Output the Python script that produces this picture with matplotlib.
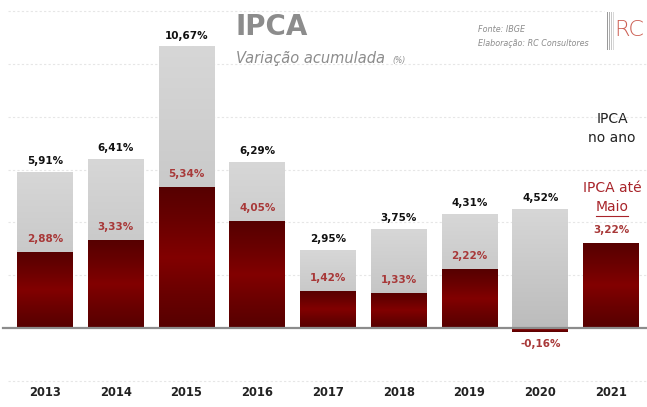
import matplotlib
matplotlib.use("Agg")
import matplotlib.pyplot as plt
import numpy as np
from matplotlib.patches import Rectangle
from matplotlib.colors import LinearSegmentedColormap

years = ["2013", "2014", "2015", "2016", "2017", "2018", "2019", "2020", "2021"]
ipca_ano = [5.91, 6.41, 10.67, 6.29, 2.95, 3.75, 4.31, 4.52, None]
ipca_maio = [2.88, 3.33, 5.34, 4.05, 1.42, 1.33, 2.22, -0.16, 3.22]
ano_labels = ["5,91%", "6,41%", "10,67%", "6,29%", "2,95%", "3,75%", "4,31%", "4,52%", ""]
maio_labels = ["2,88%", "3,33%", "5,34%", "4,05%", "1,42%", "1,33%", "2,22%", "-0,16%", "3,22%"]

FONT = ["DejaVu Sans"]
plt.rcParams['font.family'] = FONT

fig = plt.figure(figsize=(6.47, 4.07), dpi=100)
ax = fig.add_axes([0, 0, 1, 1])
ax.set_xlim(-45 / 70.75, (647 - 45) / 70.75)
ax.set_ylim(-(407 - 328) / 26.4, 328 / 26.4)
ax.axis("off")

# gridlines
for g in [12, 10, 8, 6, 4, 2, -2]:
    right = 7.9 if g == 12 else 8.5
    ax.plot([-0.52, right], [g, g], color="#e6e6e6", lw=0.8, ls=(0, (2, 2)), zorder=0)

gray_cmap = LinearSegmentedColormap.from_list("g", ["#bcbcbc", "#d7d7d7"])
red_cmap = LinearSegmentedColormap.from_list("r", ["#560000", "#6a0000", "#820000", "#6a0000", "#560000"])
w = 0.79

def grad_bar(x, h, cmap):
    y0, y1 = min(0, h), max(0, h)
    rect = Rectangle((x - w / 2, y0), w, y1 - y0, facecolor="none", edgecolor="none")
    ax.add_patch(rect)
    img = np.linspace(0, 1, 256).reshape(-1, 1)
    im = ax.imshow(img, cmap=cmap, origin="lower", aspect="auto",
                   extent=[x - w / 2, x + w / 2, y0, y1], zorder=2, interpolation="bilinear")
    im.set_clip_path(rect)

for i in range(len(years)):
    if ipca_ano[i] is not None:
        grad_bar(i, ipca_ano[i], gray_cmap)
        ax.text(i, ipca_ano[i] + 0.22, ano_labels[i], ha="center", va="bottom",
                fontsize=7.5, fontweight="bold", color="#111111", zorder=5)
    grad_bar(i, ipca_maio[i], red_cmap)
    if ipca_maio[i] < 0:
        ax.text(i, ipca_maio[i] - 0.25, maio_labels[i], ha="center", va="top",
                fontsize=7.5, fontweight="bold", color="#a83838", zorder=5)
    else:
        ax.text(i, ipca_maio[i] + 0.3, maio_labels[i], ha="center", va="bottom",
                fontsize=7.5, fontweight="bold", color="#a83838", zorder=5)
    ax.text(i, -2.45, years[i], ha="center", va="center", fontsize=8.3,
            fontweight="bold", color="#222222")

ax.plot([-0.6, 8.51], [0, 0], color="#8c8c8c", lw=1.6, zorder=4)

# title and notes (figure pixel coords)
def ft(x, y, s, **kw):
    fig.text(x / 647, 1 - y / 407, s, **kw)

ft(236, 27, "IPCA", fontsize=20, fontweight="bold", color="#8c8c8c", va="center", ha="left")
ft(236, 59, "Variação acumulada", fontsize=10.5, style="italic", color="#8c8c8c", va="center", ha="left")
ft(392, 61, "(%)", fontsize=5.5, style="italic", color="#8c8c8c", va="center", ha="left")
ft(478, 30, "Fonte: IBGE", fontsize=5.8, style="italic", color="#8c8c8c", va="center", ha="left")
ft(478, 43, "Elaboração: RC Consultores", fontsize=5.8, style="italic", color="#8c8c8c", va="center", ha="left")
# logo
for k, c in enumerate(["#9a9a9a", "#b0b0b0", "#c8c8c8", "#d8d8d8"]):
    fig.patches.append(Rectangle(((607 + k * 2) / 647, 1 - 50 / 407), 1.2 / 647, 38 / 407,
                                 transform=fig.transFigure, facecolor=c, edgecolor="none"))
ft(614, 30, "RC", fontsize=16, color="#c0392b", alpha=0.8, va="center", ha="left",
   fontweight="light")

ft(612, 119, "IPCA", fontsize=10, color="#222222", ha="center", va="center")
ft(612, 138, "no ano", fontsize=10, color="#222222", ha="center", va="center")
ft(612, 188, "IPCA até", fontsize=10, color="#a8242a", ha="center", va="center")
ft(612, 207, "Maio", fontsize=10, color="#a8242a", ha="center", va="center")
fig.lines.append(plt.Line2D([596 / 647, 628 / 647], [1 - 216 / 407, 1 - 216 / 407],
                            transform=fig.transFigure, color="#a8242a", lw=0.8))

fig.savefig("out.png", dpi=100)
